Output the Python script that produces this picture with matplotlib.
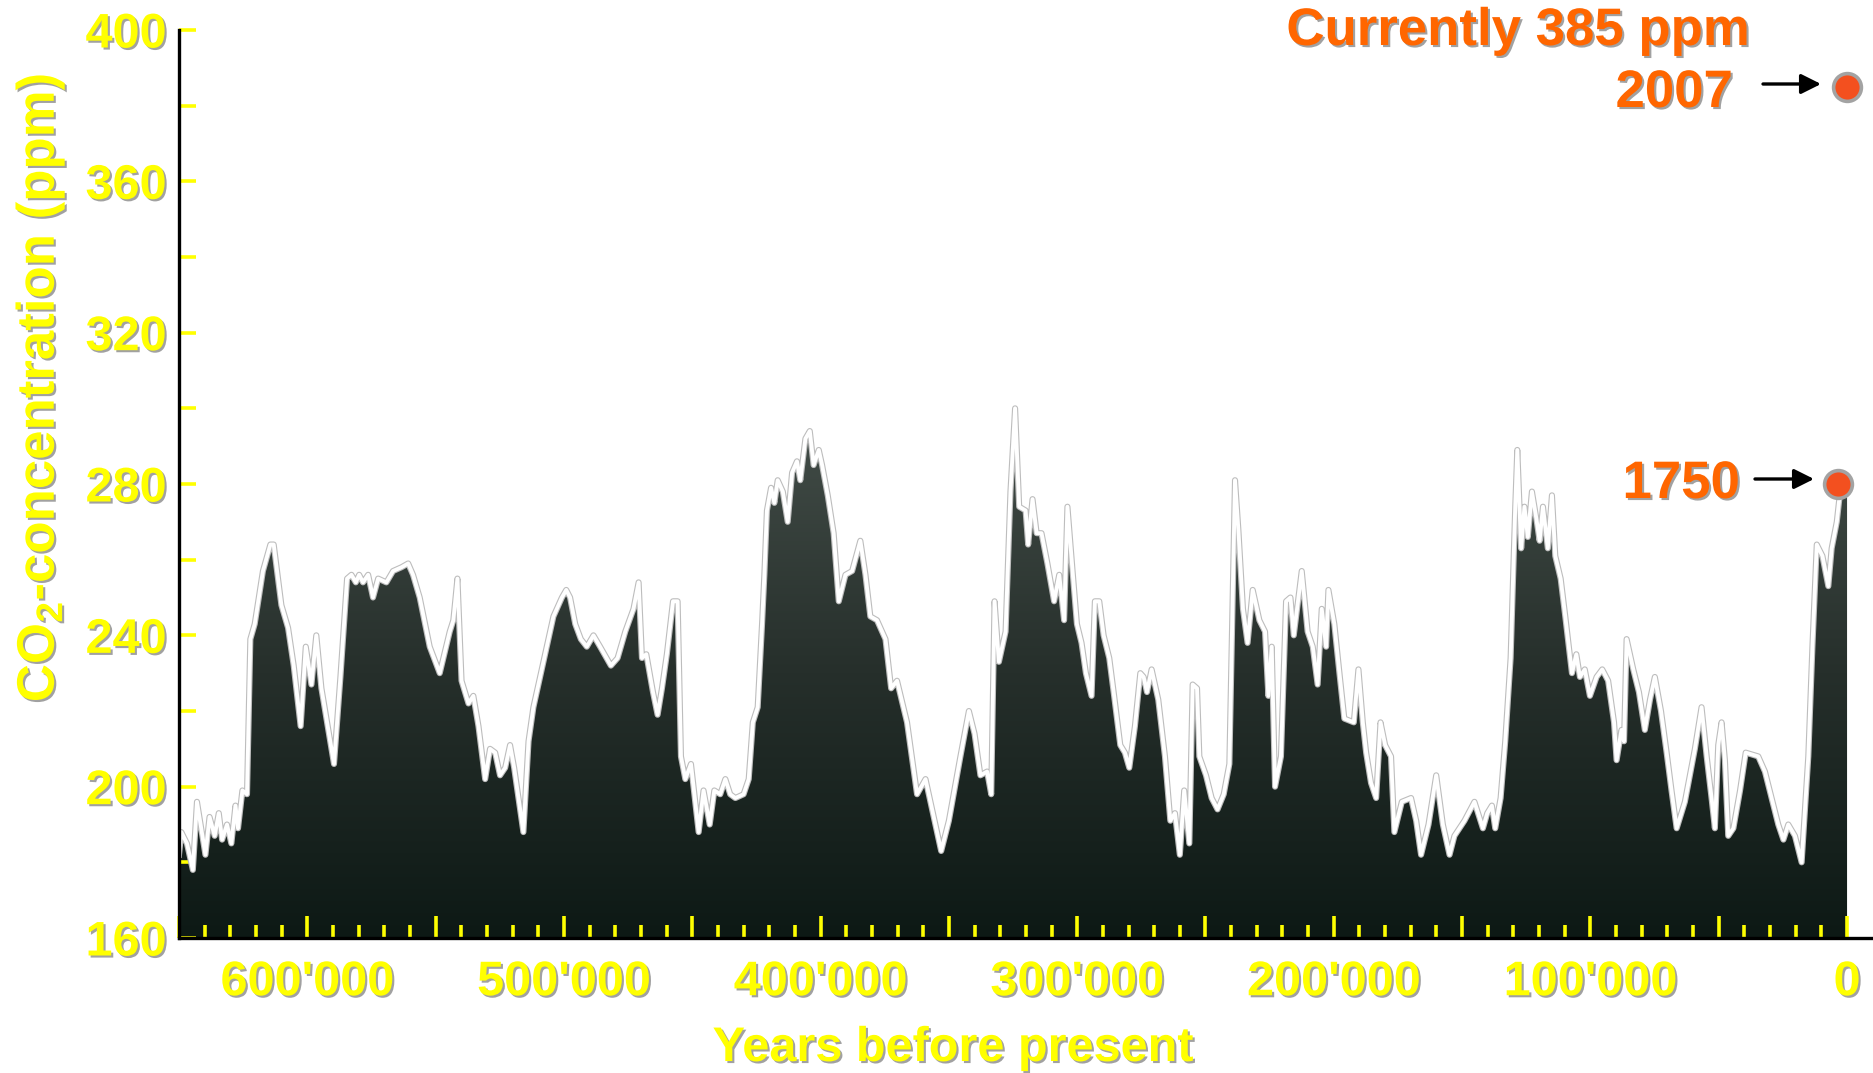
import numpy as np
import matplotlib
matplotlib.use('Agg')
import matplotlib.pyplot as plt
import matplotlib.patheffects as pe
from matplotlib.colors import LinearSegmentedColormap

# CO2 record (thousand years before present, ppm)
kyr_bp = [650.0, 649.1, 646.9, 644.6, 643.0, 639.7, 638.1, 636.1, 634.5, 633.2,
          631.3, 629.6, 628.0, 627.0, 625.3, 623.5, 622.2, 620.5, 617.3, 614.4,
          613.1, 610.1, 607.5, 605.3, 602.6, 600.6, 598.4, 596.5, 594.5, 589.6,
          587.1, 584.5, 582.8, 581.1, 579.8, 578.3, 576.3, 574.4, 572.4, 569.2,
          566.6, 563.3, 560.7, 558.8, 556.2, 552.3, 548.4, 544.5,
          543.1, 541.5, 539.9, 537.2, 535.3, 533.3, 530.7, 528.8, 526.8, 524.9,
          522.9, 521.0, 519.4, 517.7, 515.8, 513.8, 511.9, 508.0, 504.1, 500.8,
          499.1, 497.6, 495.6, 493.4, 491.1, 488.5, 485.9, 481.7, 479.1, 476.1,
          472.9, 470.9, 469.6, 467.9, 465.3, 463.5, 461.8, 459.9, 457.5, 455.7,
          454.4, 452.7, 450.5, 447.5, 445.6, 443.2, 441.4, 439.1, 437.1, 435.2,
          433.2,
          430.0, 428.0, 426.4, 424.5, 422.8, 421.9, 420.9, 419.3, 418.0, 416.7,
          414.7, 412.8, 411.1, 409.2, 407.9, 405.9, 404.2, 402.7, 400.7, 399.4,
          397.2, 394.9, 392.9, 390.3, 387.7, 384.5, 382.5, 380.6, 378.0, 374.7,
          372.5, 370.2, 366.3, 362.4, 359.1, 355.9, 353.0, 350.0, 345.5, 342.2,
          340.0, 337.7, 335.1, 333.5, 332.2, 330.5, 327.9, 326.0, 324.2,
          322.6, 320.1, 319.1, 317.4, 315.8, 313.9, 311.6, 309.0, 307.0, 305.1,
          303.8, 301.8, 300.1, 298.3, 296.6, 294.4, 293.1, 291.4, 289.7, 287.5,
          285.6, 283.2, 281.4, 279.7, 277.5, 275.4, 274.1, 272.8, 271.0, 268.4,
          265.8, 263.7, 261.9, 260.0, 258.3, 256.3, 255.0, 253.3, 252.4, 249.8,
          247.6, 245.3, 242.9, 240.7, 238.5, 237.2, 235.4, 233.6, 231.6, 229.0,
          226.8, 225.5, 224.2, 222.9, 220.6, 218.6, 216.9, 215.6,
          212.5, 210.2, 208.2, 206.3, 204.7, 203.0, 202.1, 199.8, 197.8, 195.9,
          192.2, 190.4, 188.7, 187.4, 185.5, 183.5, 181.8, 180.0, 177.7, 176.4,
          173.5, 169.9, 167.9, 166.0, 163.1, 160.1, 157.5, 154.9, 153.0, 149.1,
          145.2, 141.9, 140.2, 138.4, 137.1, 135.0, 133.2, 131.1, 129.3, 128.5,
          127.0, 125.7, 124.4, 122.8, 121.1, 119.8, 118.5, 116.6, 115.0, 113.7,
          111.6, 109.8, 107.2, 105.5,
          104.1, 102.2, 100.2, 97.6, 95.4, 93.1, 90.8, 89.8, 87.9, 86.9,
          85.9, 83.3, 81.1, 78.8, 76.8, 74.9, 72.5, 70.3, 68.4, 66.4,
          63.2, 59.3, 56.7, 54.7, 52.8, 51.5, 50.2, 48.9, 47.6, 46.3,
          44.3, 41.7, 39.5, 34.6, 32.0, 29.4, 26.8, 24.8, 22.9, 20.3,
          17.7, 15.1, 13.5, 11.8, 9.6, 7.3, 6.0, 4.0, 2.7, 0.0]

co2_ppm = [182, 188, 185, 178, 196, 182, 192, 187, 193, 186,
           190, 185, 195, 189, 199, 198, 239, 243, 257, 264,
           264, 248, 242, 232, 216, 237, 227, 240, 226, 206,
           229, 255, 256, 254, 256, 254, 256, 250, 255, 254,
           257, 258, 259, 256, 250, 237, 230, 241,
           244, 255, 228, 222, 224, 216, 202, 210, 209, 203,
           205, 211, 205, 197, 188, 212, 221, 233, 245, 250,
           252, 250, 243, 239, 237, 240, 237, 232, 234, 241,
           247, 254, 234, 235, 225, 219, 226, 235, 249, 249,
           208, 202, 206, 188, 199, 190, 199, 198, 202, 198,
           197,
           198, 202, 217, 221, 243, 256, 273, 279, 275, 281,
           278, 270, 283, 286, 281, 292, 294, 285, 289, 285,
           277, 267, 249, 256, 257, 265, 256, 245, 244, 239,
           226, 228, 217, 198, 202, 192, 183, 191, 208, 220,
           214, 203, 204, 198, 249, 233, 241, 278, 300,
           274, 273, 264, 276, 267, 267, 259, 249, 256, 244,
           274, 257, 243, 238, 230, 224, 249, 249, 240, 234,
           224, 211, 209, 205, 216, 230, 229, 225, 231, 223,
           208, 191, 193, 182, 199, 185, 227, 226, 208, 203,
           197, 194, 198, 206, 281, 268, 247, 238, 252, 244,
           241, 224, 237, 200, 208, 249, 250, 240,
           257, 241, 237, 227, 247, 237, 252, 243, 230, 218,
           217, 231, 217, 209, 201, 197, 217, 211, 208, 188,
           196, 197, 191, 182, 190, 203, 190, 182, 187, 191,
           196, 189, 193, 195, 189, 197, 212, 234, 274, 289,
           263, 274, 266, 278, 271, 265, 274, 263, 277, 261,
           255, 245, 230, 235,
           229, 231, 224, 229, 231, 228, 217, 207, 215, 212,
           239, 231, 225, 215, 223, 229, 220, 209, 199, 189,
           196, 210, 221, 208, 197, 189, 211, 217, 207, 187,
           189, 199, 209, 208, 204, 197, 190, 186, 190, 187,
           180, 208, 237, 264, 261, 253, 263, 270, 278, 278]

# highlighted values: 2007 and 1750
dot_kyr = [0.0, 3.5]
dot_ppm = [385, 280]

ytick_values = [160, 200, 240, 280, 320, 360, 400]
ytick_labels = ['160', '200', '240', '280', '320', '360', '400']
xtick_kyr = [650, 600, 550, 500, 450, 400, 350, 300, 250, 200, 150, 100, 50, 0]
xtick_labels = ['', "600'000", '', "500'000", '', "400'000", '', "300'000",
                '', "200'000", '', "100'000", '', '0']

W, H = 1874, 1073
YELLOW = '#FFFF00'
ORANGE = '#FF6600'

plt.rcParams['font.family'] = ['Liberation Sans', 'DejaVu Sans']
plt.rcParams['font.weight'] = 'bold'
plt.rcParams['mathtext.fontset'] = 'custom'
plt.rcParams['mathtext.rm'] = 'Liberation Sans:bold'
plt.rcParams['mathtext.default'] = 'rm'

shadow = [pe.withSimplePatchShadow(offset=(1.5, -1.5), shadow_rgbFace='#8a8a8a', alpha=0.8)]

fig = plt.figure(figsize=(W / 100, H / 100), dpi=100)
ax = fig.add_axes([179 / W, 135 / H, (W - 179) / W, 908 / H])

years = np.array(kyr_bp) * 1000
co2 = np.array(co2_ppm)

# dark area with a vertical gradient, clipped to the curve
area = ax.fill_between(years, co2, 160, color='none', lw=0)
cmap = LinearSegmentedColormap.from_list('ice', ['#0d1915', '#262f2b', '#444e49'])
grad = np.linspace(0, 1, 256).reshape(-1, 1)
im = ax.imshow(grad, extent=[650000, 0, 160, 300], origin='lower',
               aspect='auto', cmap=cmap, zorder=1)
im.set_clip_path(area.get_paths()[0], transform=ax.transData)

# white outline of the record
ax.plot(years, co2, color='white', lw=2.8, zorder=2, solid_joinstyle='round',
        path_effects=[pe.Stroke(linewidth=4.4, foreground='#bdbdbd'), pe.Normal()])

ax.set_xlim(650000, -10500)
ax.set_ylim(160, 400)

ax.set_yticks(ytick_values)
ax.set_yticklabels(ytick_labels, path_effects=shadow)
ax.set_yticks(np.arange(180, 400, 40), minor=True)
ax.set_xticks(np.array(xtick_kyr) * 1000)
ax.set_xticklabels(xtick_labels, path_effects=shadow)
minor_x = [v for v in range(0, 650001, 10000) if v % 50000 != 0]
ax.set_xticks(minor_x, minor=True)

ax.tick_params(axis='y', which='both', direction='in', length=12, width=2.6,
               color=YELLOW, labelcolor=YELLOW, labelsize=35, pad=9)
ax.tick_params(axis='x', which='major', direction='in', length=15.5, width=2.6,
               color=YELLOW, labelcolor=YELLOW, labelsize=35, pad=16)
ax.tick_params(axis='x', which='minor', direction='in', length=9.5, width=2.6,
               color=YELLOW)

for side in ['top', 'right']:
    ax.spines[side].set_visible(False)
for side in ['left', 'bottom']:
    ax.spines[side].set_linewidth(2.4)
    ax.spines[side].set_color('black')
ax.set_facecolor('white')

fig.text(953 / W, (H - 1061) / H, 'Years before present', ha='center', va='baseline',
         color=YELLOW, fontsize=35, path_effects=shadow)
fig.text(40 / W, 1 - 388 / H, 'CO$_2$-concentration (ppm)', rotation=90,
         ha='center', va='center', color=YELLOW, fontsize=38, path_effects=shadow)

# annotations on the right
fig.text(1749 / W, (H - 45) / H, 'Currently 385 ppm', ha='right', va='baseline',
         color=ORANGE, fontsize=38, path_effects=shadow)
fig.text(1733 / W, (H - 107) / H, '2007', ha='right', va='baseline',
         color=ORANGE, fontsize=38, path_effects=shadow)
fig.text(1740 / W, (H - 498) / H, '1750', ha='right', va='baseline',
         color=ORANGE, fontsize=38, path_effects=shadow)

arrow = dict(arrowstyle='-|>', color='black', lw=2.4, mutation_scale=30,
             shrinkA=0, shrinkB=0)
ax.annotate('', xy=(1821, H - 84), xycoords='figure pixels',
            xytext=(1763, H - 84), textcoords='figure pixels', arrowprops=arrow)
ax.annotate('', xy=(1814, H - 479), xycoords='figure pixels',
            xytext=(1755, H - 479), textcoords='figure pixels', arrowprops=arrow)

ax.scatter(np.array(dot_kyr) * 1000, dot_ppm, s=400, c='#F3501F',
           edgecolors='#a3a3a3', linewidths=2.6, zorder=6, clip_on=False)

fig.savefig('out.png', dpi=100, facecolor='white')
